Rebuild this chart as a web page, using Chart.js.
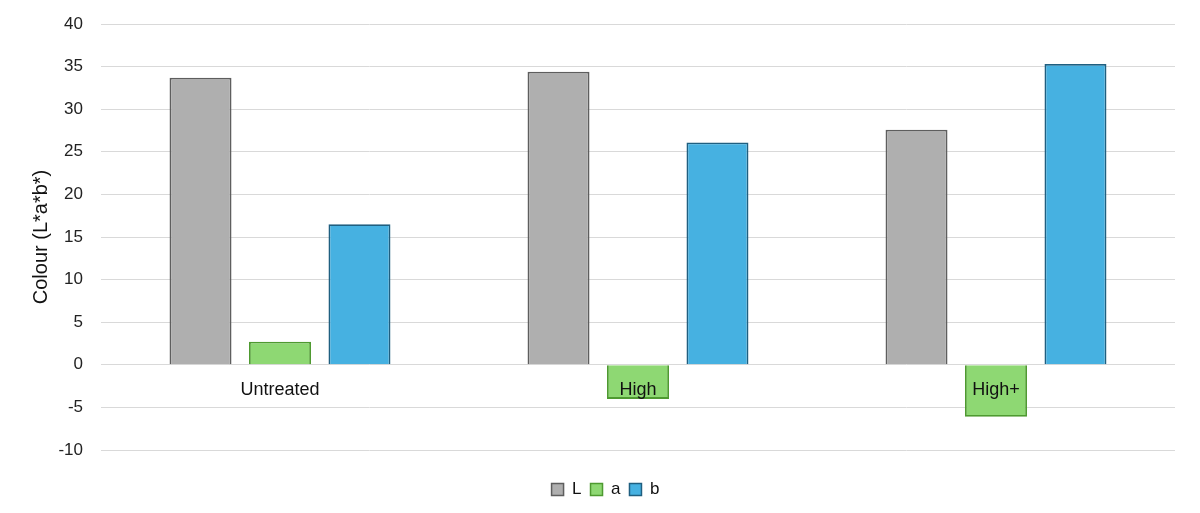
<!DOCTYPE html>
<html>
<head>
<meta charset="utf-8">
<script src="https://cdn.jsdelivr.net/npm/chart.js@4/dist/chart.umd.min.js"></script>
<style>
html,body{margin:0;padding:0;background:#fff;}
#wrap{width:1200px;height:513px;}
</style>
</head>
<body>
<div id="wrap"><canvas id="c" width="1200" height="513"></canvas></div>
<script>
const categories = ["Untreated", "High", "High+"];
const seriesNames = ["L", "a", "b"];
const valuesL = [33.7, 34.4, 27.6];
const valuesA = [2.7, -4.0, -6.1];
const valuesB = [16.5, 26.1, 35.3];
const yTicks = [-10, -5, 0, 5, 10, 15, 20, 25, 30, 35, 40];

const FONT = "'Liberation Sans', Arial, sans-serif";

const legendShift = {
  id: 'legendShift',
  afterLayout(chart) {
    if (chart.legend) { chart.legend.left += 18; chart.legend.right += 18; }
  }
};

new Chart(document.getElementById('c'), {
  type: 'bar',
  data: {
    labels: categories,
    datasets: [
      { label: seriesNames[0], data: valuesL, backgroundColor: '#AFAFAF', borderColor: '#5E5E5E', borderWidth: 1.8, categoryPercentage: 0.666, barPercentage: 0.78 },
      { label: seriesNames[1], data: valuesA, backgroundColor: '#8ED873', borderColor: '#4E9A30', borderWidth: 1.8, categoryPercentage: 0.666, barPercentage: 0.78 },
      { label: seriesNames[2], data: valuesB, backgroundColor: '#46B1E1', borderColor: '#1F5F80', borderWidth: 1.8, categoryPercentage: 0.666, barPercentage: 0.78 }
    ]
  },
  plugins: [legendShift],
  options: {
    responsive: false,
    animation: false,
    devicePixelRatio: 1,
    layout: { padding: { left: 0, right: 25, top: 24, bottom: 5 } },
    plugins: {
      tooltip: { enabled: false },
      legend: {
        position: 'bottom',
        title: { display: true, text: '', font: { size: 10, lineHeight: 1 }, padding: { top: 12, bottom: 0 } },
        labels: {
          boxWidth: 12, boxHeight: 12, padding: 9,
          color: '#111', font: { family: FONT, size: 17 },
          generateLabels(chart) {
            return chart.data.datasets.map((ds, i) => ({
              text: ds.label, fillStyle: ds.backgroundColor, strokeStyle: ds.borderColor,
              lineWidth: 1.5, hidden: false, datasetIndex: i, fontColor: '#111'
            }));
          }
        }
      }
    },
    scales: {
      x: {
        position: { y: 0 },
        grid: { display: false, drawTicks: false },
        border: { display: false },
        ticks: { z: 1, color: '#111', font: { family: FONT, size: 18 }, padding: 14 }
      },
      y: {
        min: -10, max: 40,
        afterBuildTicks(scale) { scale.ticks = yTicks.map(v => ({ value: v })); },
        afterFit(scale) { scale.width = 101; scale.paddingTop = 0; scale.paddingBottom = 0; },
        grid: { color: '#D9D9D9', lineWidth: 1, drawTicks: false },
        border: { display: false },
        ticks: { color: '#222', font: { family: FONT, size: 17 }, padding: 18 },
        title: { display: true, text: 'Colour (L*a*b*)', color: '#111', font: { family: FONT, size: 20, lineHeight: 1.2 }, padding: { top: 29, bottom: 0 } }
      }
    }
  }
});
</script>
</body>
</html>
